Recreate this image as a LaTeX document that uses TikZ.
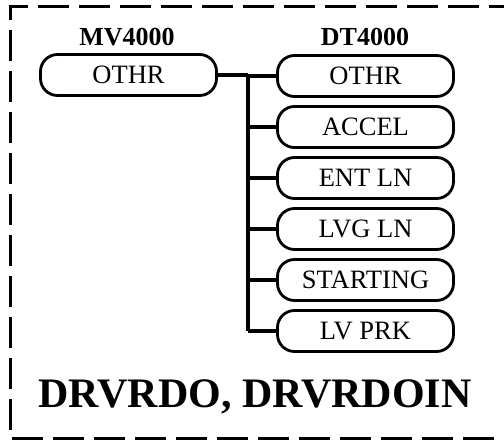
\documentclass[tikz,border=0pt]{standalone}
\usepackage{fontspec}
\setmainfont{Liberation Serif}
\begin{document}
\begin{tikzpicture}[x=1pt,y=-1pt,
  pill/.style={draw, line width=2.8pt, rounded corners=17pt, minimum width=176pt, minimum height=41pt, inner sep=0pt, font=\fontsize{26.5}{28}\selectfont},
  hdr/.style={font=\bfseries\fontsize{26}{28}\selectfont, inner sep=0pt},
  conn/.style={line width=3.5pt},
  frame/.style={line width=3pt, dash pattern=on 31pt off 10pt}]
\useasboundingbox (0,0) rectangle (504,444);
\draw[frame] (520,7) -- (10,7) -- (10,438) -- (520,438);
\node[hdr] (hmv) at (127,37) {MV4000};
\node[hdr] (hdt) at (365,37) {DT4000};
\node[pill] (mv) at (128.5,75) {OTHR};
\node[pill] (d1) at (365.5,76) {OTHR};
\node[pill] (d2) at (365.5,127) {ACCEL};
\node[pill] (d3) at (365.5,178) {ENT LN};
\node[pill] (d4) at (365.5,229) {LVG LN};
\node[pill] (d5) at (365.5,280) {STARTING};
\node[pill] (d6) at (365.5,331) {LV PRK};
\coordinate (t1) at (248,76);
\coordinate (t6) at (248,331);
\draw[conn] (mv.east) -- (mv.east -| t1);
\draw[conn] (t1 |- mv.east) -- (t6);
\foreach \n in {d1,d2,d3,d4,d5,d6}{
  \draw[conn] (t1 |- \n.west) -- (\n.west);
}
\node[font=\bfseries\fontsize{42}{44}\selectfont, inner sep=0pt] (title) at (255,397) {DRVRDO, DRVRDOIN};
\end{tikzpicture}
\end{document}
